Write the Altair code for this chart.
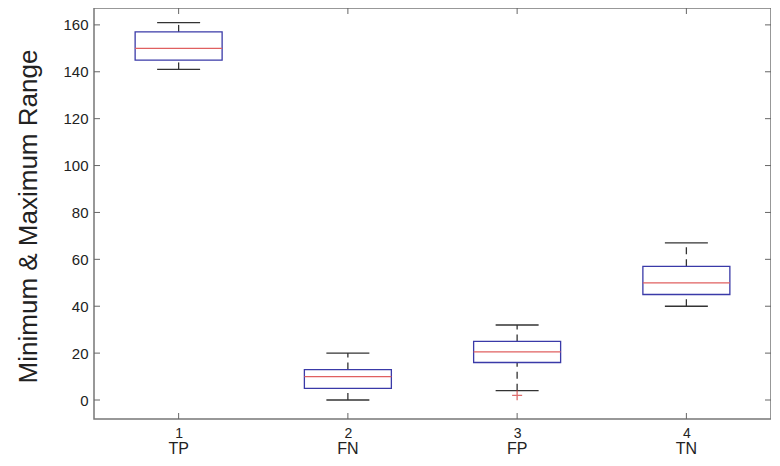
import altair as alt
import pandas as pd

# ---- data ----
categories = ["TP", "FN", "FP", "TN"]
positions = [1, 2, 3, 4]
whisker_low = [141, 0, 4, 40]
q1 = [145, 5, 16, 45]
median = [150, 10, 20.5, 50]
q3 = [157, 13, 25, 57]
whisker_high = [161, 20, 32, 67]
outlier_pos = [3]
outlier_val = [2]
y_ticks = [0, 20, 40, 60, 80, 100, 120, 140, 160]

# ---- styles ----
BOX_HALF = 0.257
CAP_HALF = 0.127
W, H = 677, 411
FONT = "Liberation Sans"
TXT = "#222222"

df = pd.DataFrame({
    "cat": categories, "pos": positions, "low": whisker_low, "q1": q1,
    "med": median, "q3": q3, "high": whisker_high,
})
df["box_lo"] = df["pos"] - BOX_HALF
df["box_hi"] = df["pos"] + BOX_HALF
df["cap_lo"] = df["pos"] - CAP_HALF
df["cap_hi"] = df["pos"] + CAP_HALF

out_df = pd.DataFrame({"pos": outlier_pos, "val": outlier_val})
ytick_df = pd.DataFrame({"v": y_ticks})
xtick_df = pd.DataFrame({"pos": positions})

yscale = alt.Scale(domain=[-8.1, 167.2], nice=False, zero=False)
xscale = alt.Scale(domain=[0.5, 4.5], nice=False, zero=False)

yaxis = alt.Axis(values=y_ticks, format="d", tickSize=0, domain=False, grid=False,
                 labelPadding=6, labelFontSize=15, labelFont=FONT, labelColor=TXT,
                 title="Minimum & Maximum Range", titleFont=FONT, titleFontSize=26,
                 titleFontWeight="normal", titleColor=TXT, titleAngle=270,
                 titleBaseline="alphabetic", titleAlign="center", titleX=-58, titleY=208)
xaxis = alt.Axis(values=positions, format="d", tickSize=0, domain=False, grid=False,
                 labelPadding=7, labelFontSize=14, labelFont=FONT, labelColor=TXT,
                 labelAngle=0, title=None)


def X(f):
    return alt.X(f, type="quantitative", scale=xscale, axis=xaxis, title=None)


def Y(f):
    return alt.Y(f, type="quantitative", scale=yscale, axis=yaxis,
                 title="Minimum & Maximum Range")


base = alt.Chart(df)
WHISK = "#333333"

upper_whisker = base.mark_rule(color=WHISK, strokeWidth=1.3, strokeDash=[7, 5]).encode(
    x=X("pos"), y=Y("q3"), y2="high")
lower_whisker = base.mark_rule(color=WHISK, strokeWidth=1.3, strokeDash=[7, 5]).encode(
    x=X("pos"), y=Y("low"), y2="q1")
upper_cap = base.mark_rule(color=WHISK, strokeWidth=1.3).encode(
    x=X("cap_lo"), x2="cap_hi", y=Y("high"))
lower_cap = base.mark_rule(color=WHISK, strokeWidth=1.3).encode(
    x=X("cap_lo"), x2="cap_hi", y=Y("low"))
box = base.mark_rect(fill="white", stroke="#3a3aa8", strokeWidth=1.3).encode(
    x=X("box_lo"), x2="box_hi", y=Y("q1"), y2="q3")
med = base.mark_rule(color="#e06060", strokeWidth=1.2).encode(
    x=X("box_lo"), x2="box_hi", y=Y("med"))
outl = alt.Chart(out_df).mark_point(shape="M-1,0L1,0M0,-1L0,1", size=100,
                                    filled=False, color="#d03030", strokeWidth=1.3).encode(
    x=X("pos"), y=Y("val"))
names = base.mark_text(font=FONT, fontSize=16, color=TXT, baseline="alphabetic",
                       align="center").encode(
    x=X("pos"), y=alt.value(446), text="cat:N")

TICK = "#666666"
lt = alt.Chart(ytick_df).mark_rule(color=TICK).encode(
    y=Y("v"), x=alt.value(0), x2=alt.value(6))
rt = alt.Chart(ytick_df).mark_rule(color=TICK).encode(
    y=Y("v"), x=alt.value(W - 6), x2=alt.value(W))
bt = alt.Chart(xtick_df).mark_rule(color=TICK).encode(
    x=X("pos"), y=alt.value(H - 6), y2=alt.value(H))
tt = alt.Chart(xtick_df).mark_rule(color=TICK).encode(
    x=X("pos"), y=alt.value(0), y2=alt.value(6))

chart = alt.layer(
    lt, rt, bt, tt, upper_whisker, lower_whisker, upper_cap, lower_cap, box, med, outl, names
).properties(
    width=W, height=H,
    autosize=alt.AutoSizeParams(type="none"),
    padding={"left": 86, "top": 0, "right": 0, "bottom": 37},
    background="white",
).configure_view(stroke="#777777", strokeWidth=1.5)

chart.save("out.html", embed_options={"renderer": "svg", "actions": False})
